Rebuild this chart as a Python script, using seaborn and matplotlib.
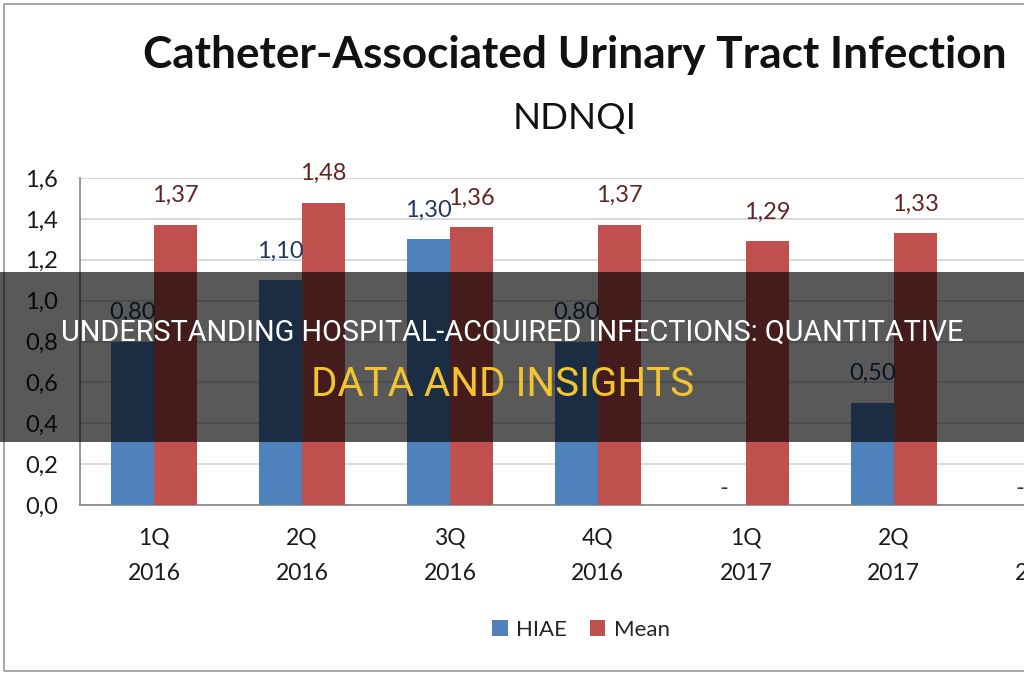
import numpy as np
import pandas as pd
import seaborn as sns
import matplotlib.pyplot as plt
from matplotlib.patches import Rectangle

quarters = ["1Q\n2016", "2Q\n2016", "3Q\n2016", "4Q\n2016", "1Q\n2017", "2Q\n2017", "3Q\n2017"]
hiae = [0.80, 1.10, 1.30, 0.80, 0.0, 0.50, 0.0]
mean = [1.37, 1.48, 1.36, 1.37, 1.29, 1.33, np.nan]
yticks = [0.0, 0.2, 0.4, 0.6, 0.8, 1.0, 1.2, 1.4, 1.6]

df = pd.DataFrame({"quarter": quarters, "HIAE": hiae, "Mean": mean})
df = df.melt(id_vars="quarter", var_name="series", value_name="value").dropna()

sns.set_style("white")
plt.rcParams["font.family"] = ["Lato", "DejaVu Sans"]

fig = plt.figure(figsize=(10.24, 6.8), dpi=100)
ax = fig.add_axes([80 / 1024, 1 - 505 / 680, 944 / 1024, 327 / 680])

colors = {"HIAE": "#4F81BD", "Mean": "#C0504D"}
label_colors = {"HIAE": "#1F3864", "Mean": "#632523"}
sns.barplot(data=df, x="quarter", y="value", hue="series", order=quarters,
            palette=colors, width=0.58, saturation=1, linewidth=0, ax=ax, zorder=3)

ax.set_xlim(-0.5, 5.88)
ax.set_ylim(0, 1.6)
ax.set_yticks(yticks)
ax.set_yticklabels([f"{v:.1f}".replace(".", ",") for v in yticks])
ax.yaxis.grid(True, color="#D9D9D9", linewidth=1.4, zorder=0)
ax.set_axisbelow(True)
ax.set_xlabel("")
ax.set_ylabel("")
ax.tick_params(axis="y", length=0, pad=16, labelsize=17, labelcolor="#1a1a1a")
ax.tick_params(axis="x", length=0, pad=16, labelsize=16.5, labelcolor="#1a1a1a")
for lab in ax.get_xticklabels():
    lab.set_linespacing(1.85)
for side in ["top", "right"]:
    ax.spines[side].set_visible(False)
for side in ["left", "bottom"]:
    ax.spines[side].set_color("#8c8c8c")
    ax.spines[side].set_linewidth(1.3)

# last category label sits past the right edge, only partly visible
ax.annotate(quarters[-1], xy=(len(quarters) - 1, 0), xycoords=("data", "axes fraction"),
            xytext=(0, -16), textcoords="offset points", ha="center", va="top",
            fontsize=16.5, color="#1a1a1a", linespacing=1.85, annotation_clip=False)

# value labels
for container, name in zip(ax.containers, ["HIAE", "Mean"]):
    for bar in container:
        h = bar.get_height()
        if np.isnan(h):
            continue
        x = bar.get_x() + bar.get_width() / 2
        if h == 0:
            txt, off = "-", 12
        else:
            txt, off = f"{h:.2f}".replace(".", ","), 21
        ax.annotate(txt, (x, h), xytext=(0, off), textcoords="offset points",
                    ha="center", va="center", fontsize=17, color=label_colors[name],
                    annotation_clip=False)

handles, labels = ax.get_legend_handles_labels()
ax.get_legend().remove()
fig.legend(handles, labels, loc="center", bbox_to_anchor=(581 / 1024, 1 - 630 / 680),
           ncol=2, frameon=False, fontsize=16, handlelength=0.7, handleheight=0.7,
           handletextpad=0.4, columnspacing=1.0)

fig.text(575 / 1024, 1 - 55 / 680, "Catheter-Associated Urinary Tract Infection",
         ha="center", va="center", fontsize=31.8, fontweight="bold", color="#111111")
fig.text(575 / 1024, 1 - 118 / 680, "NDNQI", ha="center", va="center",
         fontsize=26.5, color="#111111")

# outer chart border
fig.add_artist(Rectangle((4 / 1024, 1 - 671 / 680), 1.1, 667 / 680, transform=fig.transFigure,
                         fill=False, edgecolor="#a0a0a0", linewidth=1.3, clip_on=False))

# headline overlay band
fig.add_artist(Rectangle((0, 1 - 442 / 680), 1, 170 / 680, transform=fig.transFigure,
                         facecolor="black", alpha=0.65, linewidth=0, zorder=10))
fig.text(0.5, 1 - 333 / 680, "UNDERSTANDING HOSPITAL-ACQUIRED INFECTIONS: QUANTITATIVE",
         ha="center", va="center", fontsize=20.8, color="white", family=["Roboto", "DejaVu Sans"],
         zorder=11)
fig.text(503 / 1024, 1 - 384 / 680, "DATA AND INSIGHTS", ha="center", va="center", fontsize=29,
         color="#F4C430", family=["Roboto", "DejaVu Sans"], zorder=11)

fig.savefig("out.png", dpi=100)
